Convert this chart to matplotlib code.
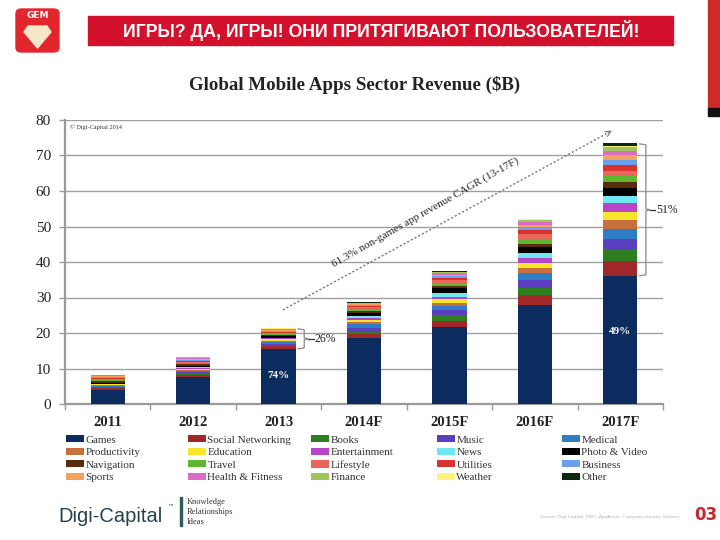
import matplotlib
matplotlib.use("Agg")
import matplotlib.pyplot as plt
from matplotlib.patches import Rectangle, FancyBboxPatch, Polygon, Patch
from matplotlib.path import Path
from matplotlib.patches import PathPatch
import numpy as np

# ---------------- data ----------------
years = ["2011", "2012", "2013", "2014F", "2015F", "2016F", "2017F"]

games             = [4.0, 7.7, 15.5, 18.5, 21.8, 27.9, 36.1]
social_networking = [0.5, 0.5, 0.7, 1.2, 1.7, 2.8, 4.3]
books             = [0.2, 0.5, 0.5, 1.0, 1.6, 1.9, 3.3]
music             = [0.15, 0.3, 0.3, 0.8, 1.4, 2.3, 2.8]
medical           = [0.2, 0.4, 0.4, 0.9, 1.2, 1.9, 2.8]
productivity      = [0.3, 0.3, 0.4, 0.6, 0.85, 1.4, 2.5]
education         = [0.15, 0.3, 0.4, 0.8, 0.95, 1.6, 2.2]
entertainment     = [0.15, 0.2, 0.3, 0.5, 0.75, 1.2, 2.5]
news              = [0.1, 0.2, 0.2, 0.6, 1.1, 1.4, 2.2]
photo_video       = [0.3, 0.4, 0.4, 0.7, 1.2, 1.9, 2.2]
navigation        = [0.5, 0.4, 0.3, 0.5, 0.65, 0.9, 1.6]
travel            = [0.2, 0.3, 0.3, 0.6, 0.95, 1.4, 1.6]
lifestyle         = [0.4, 0.4, 0.3, 0.5, 0.75, 1.2, 1.5]
utilities         = [0.2, 0.3, 0.4, 0.4, 0.65, 1.1, 1.6]
business          = [0.15, 0.2, 0.2, 0.3, 0.5, 0.9, 1.4]
sports            = [0.4, 0.4, 0.3, 0.2, 0.4, 0.75, 1.4]
health_fitness    = [0.15, 0.2, 0.2, 0.2, 0.4, 0.65, 1.2]
finance           = [0.1, 0.1, 0.1, 0.1, 0.2, 0.5, 1.1]
weather           = [0.05, 0.1, 0.1, 0.1, 0.2, 0.3, 0.5]
other             = [0.05, 0.1, 0.1, 0.1, 0.15, 0.2, 0.6]

series_names = ["Games", "Social Networking", "Books", "Music", "Medical",
                "Productivity", "Education", "Entertainment", "News", "Photo & Video",
                "Navigation", "Travel", "Lifestyle", "Utilities", "Business",
                "Sports", "Health & Fitness", "Finance", "Weather", "Other"]
series_values = [games, social_networking, books, music, medical,
                 productivity, education, entertainment, news, photo_video,
                 navigation, travel, lifestyle, utilities, business,
                 sports, health_fitness, finance, weather, other]
series_colors = ["#0c2b5e", "#a0282a", "#2e7d1f", "#5a3fc0", "#2f7dc4",
                 "#c8703a", "#f7e52c", "#b845c8", "#70e8f2", "#000000",
                 "#5a2c0e", "#5cb82c", "#ea665c", "#d8332c", "#6c9ff0",
                 "#f2a25c", "#da6cc6", "#9ec65c", "#fff27c", "#0b2a12"]

yticks = [0, 10, 20, 30, 40, 50, 60, 70, 80]

SERIF = ["Liberation Serif", "DejaVu Serif"]

# ---------------- figure ----------------
fig = plt.figure(figsize=(7.2, 5.4), dpi=100)
W, H = 720.0, 540.0

def fx(px):
    return px / W

def fy(py):
    return 1 - py / H

# header banner
fig.patches.append(Rectangle((fx(88), fy(45)), (673 - 88) / W, 29 / H,
                             transform=fig.transFigure, color="#d4112c", zorder=1))
fig.text(fx(381), fy(31), "ИГРЫ? ДА, ИГРЫ! ОНИ ПРИТЯГИВАЮТ ПОЛЬЗОВАТЕЛЕЙ!",
         color="white", fontsize=12.8, fontweight="bold",
         family=["Liberation Sans Narrow", "Liberation Sans", "DejaVu Sans"],
         ha="center", va="center", zorder=2)

# right red strip
fig.patches.append(Rectangle((fx(708), fy(108)), 12 / W, 108 / H,
                             transform=fig.transFigure, color="#cf2a2a", zorder=1))
fig.patches.append(Rectangle((fx(708), fy(116)), 12 / W, 8 / H,
                             transform=fig.transFigure, color="#111111", zorder=1))

# GEM logo
fig.patches.append(FancyBboxPatch((fx(16), fy(52)), 43 / W, 43 / H,
                                  boxstyle="round,pad=0,rounding_size=0.008",
                                  transform=fig.transFigure, color="#e3262d", zorder=1))
fig.text(fx(37.5), fy(16), "GEM", color="white", fontsize=6.5, fontweight="bold",
         ha="center", va="center", family=["DejaVu Sans"])
diamond = [(28, 26), (47, 26), (51, 32), (37.5, 48), (24, 32)]
fig.patches.append(Polygon([(fx(x), fy(y)) for x, y in diamond], closed=True,
                           transform=fig.transFigure, color="#f6e7c9", zorder=2))

# chart title
fig.text(fx(355), fy(85), "Global Mobile Apps Sector Revenue ($B)", fontsize=13.6,
         fontweight="bold", family=SERIF, ha="center", va="center", color="#222222")

# ---------------- axes ----------------
ax = fig.add_axes([fx(65), fy(404), (663 - 65) / W, (404 - 120) / H])
x = np.arange(len(years))
bottom = np.zeros(len(years))
handles = []
for name, vals, col in zip(series_names, series_values, series_colors):
    v = np.array(vals)
    ax.bar(x, v, width=0.4, bottom=bottom, color=col, edgecolor="none", zorder=3, label=name)
    bottom += v
    handles.append(Patch(facecolor=col, edgecolor="none", label=name))

ax.set_xlim(-0.5, len(years) - 0.5)
ax.set_ylim(0, 80)
ax.set_yticks(yticks)
ax.set_yticklabels([str(t) for t in yticks], family=SERIF, fontsize=11, color="#222222")
ax.set_xticks(x)
ax.set_xticklabels(years, family=SERIF, fontsize=10.5, fontweight="bold", color="#222222")
ax.set_xticks(np.arange(len(years) + 1) - 0.5, minor=True)
ax.tick_params(axis="x", which="major", length=0, pad=9)
ax.tick_params(axis="x", which="minor", length=4, color="#999999", width=1)
ax.tick_params(axis="y", length=4, color="#999999", width=1, pad=6)
for s in ["top", "right"]:
    ax.spines[s].set_visible(False)
ax.spines["left"].set_color("#9a9a9a")
ax.spines["left"].set_linewidth(1.6)
ax.spines["bottom"].set_color("#9a9a9a")
ax.spines["bottom"].set_linewidth(1.6)
ax.yaxis.grid(True, color="#a0a0a0", linewidth=1.0, zorder=0)
ax.set_axisbelow(True)

ax.text(0.008, 0.985, "© Digi-Capital 2014", transform=ax.transAxes, fontsize=4.5,
        family=SERIF, va="top", ha="left", color="#333333")

# share labels
ax.text(2, 7.9, "74%", color="white", fontsize=8, fontweight="bold", family=SERIF,
        ha="center", va="center", zorder=5)
ax.text(6, 20.4, "49%", color="white", fontsize=8, fontweight="bold", family=SERIF,
        ha="center", va="center", zorder=5)

def brace(x0, y0, y1, label):
    ym = (y0 + y1) / 2
    verts = [(x0, y1), (x0 + 0.08, y1 - 0.3), (x0 + 0.08, ym + 0.3), (x0 + 0.13, ym),
             (x0 + 0.08, ym - 0.3), (x0 + 0.08, y0 + 0.3), (x0, y0)]
    ax.add_patch(PathPatch(Path(verts), fill=False, edgecolor="#888888", lw=0.9,
                           clip_on=False, zorder=4))
    ax.plot([x0 + 0.13, x0 + 0.19], [ym, ym], color="#333333", lw=0.9, clip_on=False)
    ax.text(x0 + 0.2, ym, label, fontsize=8.5, family=SERIF, va="center", ha="left",
            color="#222222", clip_on=False)

brace(2.22, 15.5, 21.2, "26%")
brace(6.22, 36.1, 73.3, "51%")

# CAGR dotted arrow
ax.plot([2.05, 5.85], [26.5, 76.3], linestyle=(0, (1.5, 1.5)), color="#777777",
        lw=1.0, zorder=4, clip_on=False)
ax.annotate("", xy=(5.93, 77.4), xytext=(5.83, 76.0),
            arrowprops=dict(arrowstyle="->", color="#777777", lw=0.8), annotation_clip=False)
ax.text(3.72, 54.0, "61.3% non-games app revenue CAGR (13-17F)", rotation=29.5,
        rotation_mode="anchor", fontsize=8, family=SERIF, ha="center", va="center",
        color="#222222")

# ---------------- legend (5 columns, row-major) ----------------
col_x = [66, 188, 311, 437, 562]
for c in range(5):
    hs = [handles[r * 5 + c] for r in range(4)]
    leg = fig.legend(handles=hs, loc="upper left", bbox_to_anchor=(fx(col_x[c]), fy(435)),
                     frameon=False, prop={"family": SERIF, "size": 8},
                     handlelength=1.6, handleheight=0.65, handletextpad=0.15,
                     labelspacing=0.26, borderpad=0, borderaxespad=0)
    for t in leg.get_texts():
        t.set_color("#333333")

# ---------------- footer ----------------
fig.text(fx(58), fy(522), "Digi-Capital", fontsize=14.5,
         family=["Liberation Sans", "DejaVu Sans"],
         color="#27404f", ha="left", va="baseline")
fig.text(fx(167), fy(509), "™", fontsize=4.5, color="#27404f", ha="left", va="baseline")
fig.patches.append(Rectangle((fx(180), fy(526)), 2 / W, 29 / H, transform=fig.transFigure,
                             color="#2e5a58", zorder=1))
for i, t in enumerate(["Knowledge", "Relationships", "Ideas"]):
    fig.text(fx(187), fy(502 + 10 * i), t, fontsize=6, family=SERIF, color="#333333",
             ha="left", va="center")
fig.text(fx(540), fy(517), "Source: Digi-Capital, PWC, AppAnnie, Company reports, Gartner",
         fontsize=3.2, color="#b0b0b0", ha="left", va="center")
fig.text(fx(717), fy(515), "03", fontsize=12, fontweight="bold", color="#c8282c",
         ha="right", va="center")

fig.savefig("out.png", dpi=100)
